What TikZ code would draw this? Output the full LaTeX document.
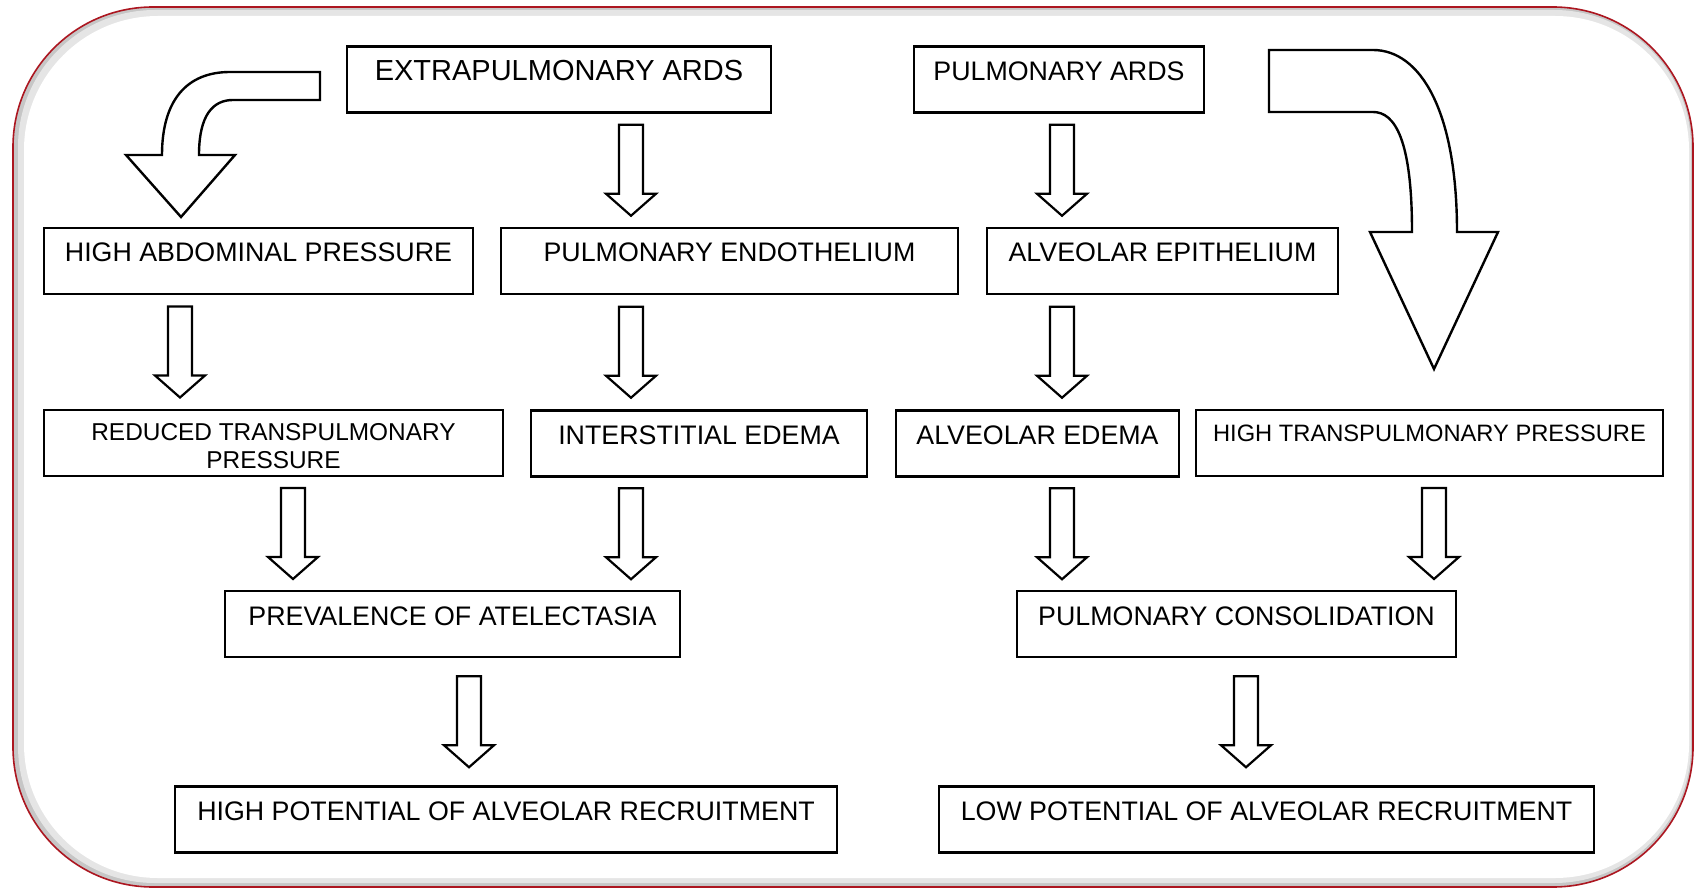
\documentclass[tikz,border=0pt]{standalone}
\usepackage{fontspec}
\setmainfont{Liberation Sans}
\usetikzlibrary{calc}
\definecolor{framered}{RGB}{172,22,32}

\begin{document}
\begin{tikzpicture}[x=1pt,y=-1pt,
    box/.style={draw,line width=2.6pt,inner sep=0pt,minimum height=66pt,text height=34pt,text depth=32pt,align=center,font=\fontsize{26.8}{30}\selectfont},
    hollow/.style={line width=2.2pt,line join=miter,to path={let \p1=(\tikztostart),\p2=(\tikztotarget),\n1={(\y1+\y2)/2} in
      (\x1-12pt,\n1*1pt+45.5pt) -- (\x1-12pt,\n1*1pt-23.5pt) -- (\x1-25pt,\n1*1pt-23.5pt) -- (\x1,\n1*1pt-45.5pt)
      -- (\x1+25pt,\n1*1pt-23.5pt) -- (\x1+12pt,\n1*1pt-23.5pt) -- (\x1+12pt,\n1*1pt+45.5pt) -- cycle}},
    bigarrow/.style={line width=2.4pt,line join=miter}]
  \useasboundingbox (0,0) rectangle (1696,890);

  % frame with its inner shadow
  \fill[gray!45,rounded corners=140pt] (13,7) rectangle (1693,887);
  \fill[gray!20,rounded corners=137pt] (18,10) rectangle (1691,883);
  \fill[white,rounded corners=134pt] (24,16) rectangle (1689,878);
  \draw[framered,line width=1.6pt,rounded corners=140pt] (13,7) rectangle (1693,887);

  % boxes
  \node (extra) at (559,79.5) [box,minimum width=424pt,minimum height=65pt,font=\fontsize{29}{32}\selectfont] {EXTRAPULMONARY ARDS};
  \node (pulm) at (1059,79.5) [box,minimum width=290pt,minimum height=65pt] {PULMONARY ARDS};
  \node (abd) at (258.5,261) [box,minimum width=429pt] {HIGH ABDOMINAL PRESSURE};
  \node (endo) at (729.5,261) [box,minimum width=457pt] {PULMONARY ENDOTHELIUM};
  \node (epi) at (1162.5,261) [box,minimum width=351pt] {ALVEOLAR EPITHELIUM};
  \node (rtp) at (273.5,443) [box,minimum width=459pt,text height=58pt,text depth=8pt,font=\fontsize{24.4}{28}\selectfont] {REDUCED TRANSPULMONARY\\PRESSURE};
  \node (inter) at (699,443.5) [box,minimum width=336pt] {INTERSTITIAL EDEMA};
  \node (aed) at (1037.5,443.5) [box,minimum width=283pt] {ALVEOLAR EDEMA};
  \node (htp) at (1429.5,443) [box,minimum width=467pt,text height=31pt,text depth=35pt,font=\fontsize{23.7}{28}\selectfont] {HIGH TRANSPULMONARY PRESSURE};
  \node (atel) at (452.5,624) [box,minimum width=455pt] {PREVALENCE OF ATELECTASIA};
  \node (cons) at (1236.5,624) [box,minimum width=439pt] {PULMONARY CONSOLIDATION};
  \node (hpot) at (506,819.5) [box,minimum width=662pt] {HIGH POTENTIAL OF ALVEOLAR RECRUITMENT};
  \node (lpot) at (1266.5,819.5) [box,minimum width=655pt] {LOW POTENTIAL OF ALVEOLAR RECRUITMENT};

  % arrow columns
  \coordinate (xa) at (180,0);
  \coordinate (xb) at (293,0);
  \coordinate (xc) at (469,0);
  \coordinate (xd) at (631,0);
  \coordinate (xe) at (1062,0);
  \coordinate (xf) at (1246,0);
  \coordinate (xg) at (1434,0);

  \draw[hollow] (extra.south -| xd) to (endo.north -| xd);
  \draw[hollow] (pulm.south -| xe) to (epi.north -| xe);
  \draw[hollow] (abd.south -| xa) to (rtp.north -| xa);
  \draw[hollow] (endo.south -| xd) to (inter.north -| xd);
  \draw[hollow] (epi.south -| xe) to (aed.north -| xe);
  \draw[hollow] (rtp.south -| xb) to (atel.north -| xb);
  \draw[hollow] (inter.south -| xd) to (atel.north -| xd);
  \draw[hollow] (aed.south -| xe) to (cons.north -| xe);
  \draw[hollow] (htp.south -| xg) to (cons.north -| xg);
  \draw[hollow] (atel.south -| xc) to (hpot.north -| xc);
  \draw[hollow] (cons.south -| xf) to (lpot.north -| xf);

  % the two bent arrows
  \draw[bigarrow] (320,72) -- (230,72) .. controls (187,72) and (162,100) .. (162,155) -- (126,155) -- (181,217)
    -- (235,155) -- (199,155) .. controls (199,115) and (213,100) .. (233,100) -- (320,100) -- cycle;
  \draw[bigarrow] (1269,50) -- (1373,50) .. controls (1420,50) and (1457,110) .. (1457,232) -- (1498,232) -- (1434,369)
    -- (1370,232) -- (1412,232) .. controls (1412,140) and (1395,112) .. (1373,112) -- (1269,112) -- cycle;
\end{tikzpicture}
\end{document}
